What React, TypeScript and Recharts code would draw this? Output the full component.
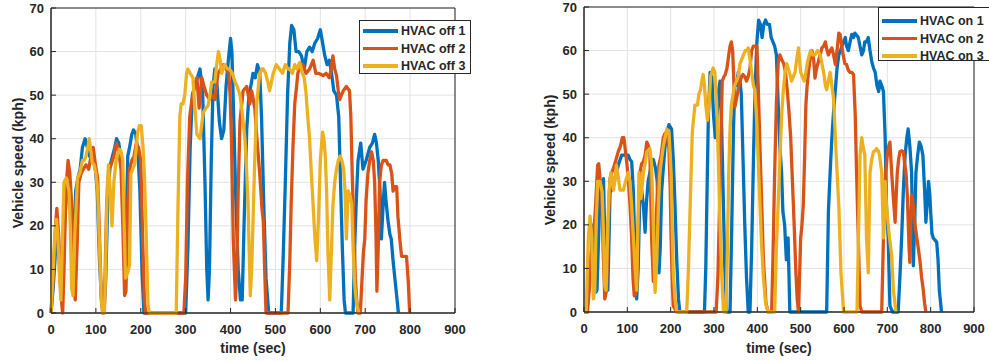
import React from 'react';
import { LineChart, Line, XAxis, YAxis, CartesianGrid, ReferenceArea } from 'recharts';

// [time (sec), speed (kph)]
const hvacOff1: [number, number][] = [
  [0, 0], [5, 6], [10, 14], [14, 19], [18, 14], [22, 4], [26, 8], [31, 22], [36, 29], [42, 30], [47, 22], [51, 17],
  [55, 28], [60, 31], [65, 33], [70, 38], [76, 40], [81, 38], [86, 36], [92, 35], [98, 34], [103, 28], [108, 12],
  [113, 2], [118, 0], [122, 8], [127, 28], [132, 34], [137, 36], [142, 38], [146, 40], [151, 39], [156, 35], [160, 28],
  [164, 15], [167, 17], [171, 36], [175, 38], [180, 41], [184, 42], [189, 41], [194, 36], [198, 28], [203, 9], [207, 0],
  [300, 0], [305, 15], [310, 38], [315, 50], [320, 52], [326, 54], [332, 56], [338, 50], [343, 30], [347, 10], [350, 3],
  [353, 10], [357, 35], [361, 52], [365, 56], [370, 52], [375, 44], [380, 40], [385, 42], [390, 52], [395, 58], [400, 63],
  [403, 60], [407, 45], [412, 25], [417, 10], [422, 3], [426, 3], [430, 20], [436, 42], [441, 50], [445, 52], [450, 55],
  [455, 54], [460, 57], [465, 55], [469, 45], [474, 25], [479, 8], [485, 0], [513, 0], [517, 12], [522, 30], [527, 50],
  [532, 62], [536, 66], [541, 65], [546, 60], [552, 60], [558, 59], [564, 56], [570, 60], [576, 61], [582, 60], [588, 62],
  [594, 63], [600, 65], [605, 62], [610, 59], [615, 57], [620, 58], [625, 55], [630, 51], [636, 50], [641, 45], [645, 30],
  [649, 15], [653, 3], [656, 0], [673, 0], [677, 17], [681, 28], [684, 35], [690, 39], [695, 33], [702, 35], [710, 38],
  [716, 39], [721, 41], [725, 39], [729, 35], [733, 28], [736, 17], [740, 25], [743, 30], [747, 25], [751, 21], [755, 18],
  [758, 17], [762, 12], [766, 8], [770, 4], [774, 0],
];

const hvacOff2: [number, number][] = [
  [0, 0], [5, 8], [10, 20], [13, 24], [17, 18], [21, 8], [24, 2], [26, 0], [29, 10], [33, 28], [38, 35], [42, 32],
  [46, 25], [50, 8], [54, 3], [58, 15], [62, 30], [67, 32], [72, 33], [78, 34], [84, 33], [89, 36], [94, 38], [99, 34],
  [104, 31], [108, 18], [112, 4], [115, 0], [119, 2], [124, 25], [129, 33], [134, 34], [140, 36], [146, 39], [151, 37],
  [156, 33], [160, 20], [164, 4], [167, 5], [171, 25], [175, 33], [180, 35], [185, 36], [190, 39], [195, 38], [200, 35],
  [204, 18], [208, 3], [211, 0], [296, 0], [300, 8], [304, 30], [309, 45], [314, 49], [320, 52], [325, 54], [330, 47],
  [336, 54], [341, 52], [347, 50], [353, 49], [359, 50], [365, 49], [372, 55], [378, 56], [384, 57], [390, 56], [396, 55],
  [399, 50], [402, 40], [406, 17], [411, 3], [414, 10], [417, 28], [421, 44], [428, 51], [436, 52], [443, 48], [447, 51],
  [454, 47], [458, 41], [465, 32], [470, 24], [473, 21], [476, 10], [479, 0], [528, 0], [532, 12], [535, 25], [539, 38],
  [543, 48], [550, 55], [556, 57], [561, 57], [568, 55], [576, 56], [584, 58], [590, 55], [596, 55], [606, 54.5], [613, 55],
  [620, 54], [624, 56], [628, 59], [632, 56], [636, 54.5], [640, 51], [643, 49], [647, 50], [651, 51], [658, 52], [665, 51],
  [668, 45], [671, 32], [675, 18], [678, 8], [681, 3], [684, 0], [689, 0], [693, 8], [696, 14], [699, 17], [702, 26],
  [706, 32], [710, 35], [714, 37], [718, 35], [721, 30], [724, 18], [726, 5], [729, 15], [732, 30], [736, 34], [740, 35],
  [747, 35], [751, 34], [755, 34], [759, 32], [762, 28], [766, 29], [770, 29], [773, 22], [777, 17], [781, 13], [786, 13],
  [792, 13], [796, 7], [799, 0],
];

const hvacOff3: [number, number][] = [
  [0, 0], [4, 8], [8, 17], [12, 21.5], [15, 18], [18, 10], [22, 3], [25, 15], [29, 30], [34, 31], [40, 28], [43, 20],
  [46, 5.5], [49, 4], [53, 18], [59, 31], [64, 32], [70, 35], [74, 35], [78, 36], [82, 38], [85, 40], [89, 37], [92, 34.5],
  [96, 34], [100, 32], [104, 28], [108, 15], [112, 3], [115, 0], [119, 0], [122, 12], [125, 28], [128, 34], [132, 28],
  [136, 20], [140, 30], [145, 35], [152, 37.6], [156, 37], [160, 35], [163, 20], [166, 8], [170, 9], [175, 11], [178, 32],
  [182, 33], [186, 34], [190, 38], [193, 41.5], [197, 43], [201, 43], [205, 38], [208, 32], [212, 18], [216, 2], [219, 0],
  [279, 0], [283, 25], [287, 45], [290, 48], [294, 48], [298, 50], [302, 55], [305, 56], [310, 55], [316, 54], [320, 48],
  [325, 41], [332, 40], [339, 46], [345, 47], [350, 47.6], [354, 50], [358, 53], [365, 53], [369, 57], [373, 60], [377, 58],
  [380, 55], [387, 57], [393, 56], [398, 56], [404, 55], [410, 53], [415, 52], [421, 50], [426, 46], [432, 40], [436, 32],
  [439, 25], [442, 12], [444, 4], [447, 10], [449, 17], [453, 32], [458, 47.6], [462, 52], [465, 55], [469, 56], [473, 56],
  [478, 55], [483, 53], [487, 51], [491, 53], [495, 55], [502, 57], [509, 56], [516, 55], [522, 57], [528, 56], [532, 56],
  [538, 55], [543, 57], [548, 56], [554, 57.5], [560, 55], [564, 54], [568, 50.6], [572, 45], [576, 40], [580, 32],
  [584, 24.6], [588, 17], [592, 12], [596, 22], [600, 35], [605, 41.5], [608, 40], [611, 36], [614, 28], [617, 14],
  [621, 3], [624, 12], [628, 24.6], [632, 30], [636, 33], [640, 35], [644, 36], [648, 35], [652, 33], [655, 28], [658, 17],
  [662, 28], [666, 27], [670, 25], [673, 15], [677, 6], [681, 2], [686, 0],
];

const hvacOn1: [number, number][] = [
  [0, 0], [6, 0], [10, 4], [14, 9], [18, 15], [21.5, 20], [24, 12], [27, 4.5], [30, 5], [33, 15], [37, 27.5], [41, 30],
  [45, 30.6], [48, 17], [52, 8], [55, 5], [58, 18], [60, 27.5], [64, 28], [68, 29], [72, 31], [75, 32], [80, 34], [87, 36],
  [95, 36], [102, 36], [106, 35], [110, 34.5], [114, 27.5], [118, 12], [121.5, 3], [125, 10], [129, 27.5], [133, 28],
  [137, 24.5], [141, 18.3], [144, 25], [148, 30], [152, 32], [156, 34], [160, 35], [165, 33], [169, 30], [173, 9], [176, 15],
  [179, 27.5], [183, 33], [187, 38], [191, 41], [196, 43], [202, 42], [206, 35], [210, 24.5], [214, 12], [218, 3], [221, 0],
  [278, 0], [281, 10], [284, 28], [287, 45], [291, 55], [295, 54], [299, 45], [303, 40], [307, 45], [311, 51], [314, 53],
  [317, 45], [321, 28], [325, 10], [329, 0], [337, 0], [341, 20], [345, 42], [348, 52], [352, 52], [356, 55], [360, 53],
  [363, 50], [367, 35], [371, 20], [375, 8], [379, 0], [383, 0], [387, 15], [391, 35], [395, 52], [399, 62], [403, 67],
  [407, 66], [411, 63], [415, 66], [419, 67], [423, 66], [428, 66], [432, 63], [436, 62], [440, 61], [444, 59], [448, 48],
  [452, 38], [456, 32], [459, 23], [463, 20], [467, 12], [471, 17], [475, 0], [560, 0], [564, 23], [568, 32], [572, 40],
  [576, 46], [580, 51], [584, 56], [588, 59], [592, 60], [595, 61], [599, 62], [603, 63], [606, 61], [610, 60], [614, 62],
  [618, 63.7], [622, 63], [625, 64], [629, 63.5], [633, 63], [637, 61], [641, 59], [645, 60], [648, 62], [652, 62],
  [656, 63], [660, 60], [664, 57.5], [668, 56], [672, 55], [676, 52], [680, 50.6], [683, 53], [687, 52], [691, 50.6],
  [695, 40], [698, 24.5], [702, 17], [706, 1.4], [712, 0], [725, 0], [729, 8], [733, 17], [737, 28], [741, 36], [745, 40],
  [748, 42], [752, 38], [756, 32], [758, 20], [760, 10.6], [763, 20], [766, 32], [770, 36], [774, 39], [778, 38], [782, 36],
  [786, 28], [789, 20.6], [792, 25], [795, 30], [798, 27], [800, 23], [803, 18], [806, 17], [810, 16.5], [814, 16],
  [817, 12], [820, 5], [823, 2], [825, 0],
];

const hvacOn2: [number, number][] = [
  [0, 0], [8, 0], [12, 5], [16, 12], [20, 18], [24, 20], [27, 25], [31.5, 33.7], [34, 34], [37, 30.6], [41, 27], [44, 15],
  [48, 3], [52, 5], [56, 20], [60, 30.6], [64, 32], [68, 33], [74, 35], [79, 36.8], [84, 38], [88.5, 40], [92, 40],
  [95, 37.5], [99, 34], [102, 30.6], [106, 25], [110, 17], [113, 8], [116, 3.7], [119, 4], [122, 6], [125, 20], [129, 32],
  [133, 34], [137, 34.5], [141, 36], [145, 39], [149, 38], [152, 36.8], [156, 17], [160, 7], [164, 15], [168, 24.5],
  [173, 33.7], [178, 36], [183, 40], [187, 41], [191, 41.4], [196, 37.5], [199, 28], [201, 17], [204, 6], [206, 1.4],
  [214, 0], [305, 0], [309, 8], [312, 20.6], [316, 40], [319, 53], [323, 54], [326, 54.5], [330, 56], [334, 59], [337, 61],
  [340, 62], [343, 60], [345, 55], [348, 47], [352, 49], [356, 51], [360, 53], [364, 54], [367, 54.5], [371, 54], [375, 53],
  [379, 54], [383, 56], [387, 60], [391, 61], [395, 61], [399, 61], [402, 52], [406, 38], [410, 25], [414, 12], [420, 2],
  [425, 0], [433, 0], [436, 12], [440, 32], [444, 48], [448, 57], [452, 59], [456, 58], [461, 57], [465, 55], [469, 51],
  [473, 46], [477, 40], [481, 30], [485, 20], [489, 9], [492, 3], [495, 0], [500, 17], [503, 20], [506, 24.5], [509, 35],
  [512, 47.5], [515, 52], [518, 55], [522, 58], [526, 60], [530, 58], [533, 53.7], [537, 56], [541, 57.5], [545, 59],
  [549, 60.6], [553, 61], [557, 62], [561, 60], [564, 59], [568, 60], [572, 60.6], [576, 59], [580, 56.8], [584, 60],
  [588, 64], [591, 63.7], [595, 61], [598, 59], [602, 57], [606, 56.8], [610, 55.5], [614, 55], [618, 55], [622, 54.5],
  [626, 45], [629, 32], [633, 17], [637, 1.4], [641, 0], [687, 0], [691, 17], [695, 30.6], [700, 36], [703, 38], [706, 39],
  [710, 32], [714, 26], [718, 20.6], [721, 28], [723, 32], [726, 35], [729, 36.8], [733, 37], [737, 36.8], [740, 34],
  [743, 32], [746, 27], [748, 21.4], [750, 15], [752, 11.4], [754, 20], [756, 26.8], [758, 26], [760, 24.5], [764, 20],
  [768, 17], [771, 15], [775, 12], [779, 8], [783, 5], [786, 2], [789, 0],
];

const hvacOn3: [number, number][] = [
  [0, 0], [5, 0], [10, 17], [14, 22], [18, 17], [21.5, 3], [25, 5], [28, 20], [31.5, 30], [37, 30], [42, 27.5], [45, 18],
  [48, 6], [51, 5], [55, 20], [58, 28], [62, 32], [68, 28], [71, 30], [75, 33.7], [79, 31], [83, 28], [87, 28], [91, 28],
  [96, 30], [102, 32], [106, 30], [110, 24.5], [114, 17], [118, 10], [121.5, 5], [124, 18], [127, 32], [131.5, 26],
  [137, 32], [141, 34], [145, 36.8], [152, 37.5], [156, 34], [160, 20], [164, 4.5], [168, 12], [172, 25], [175, 32],
  [179, 35], [183, 38], [187, 40], [191, 42], [196, 41.4], [201, 32], [206, 9], [210, 3], [214, 0], [237, 0], [241, 10],
  [245, 24.5], [250, 41.4], [256, 47.5], [262, 47.5], [265, 50], [269, 51], [272, 53], [275, 54.5], [278, 52], [281, 47.5],
  [285, 44], [289, 48], [292, 54], [295, 55], [298, 56], [302, 55], [306, 48], [310, 35], [314, 20], [318, 8], [322, 0],
  [328, 0], [331, 15], [334, 32], [337, 42], [340, 47.5], [344, 50], [348, 52], [352, 53], [356, 54], [360, 57], [364, 58],
  [368, 59], [372, 60], [376, 60], [379, 60.6], [383, 58], [387, 55], [391, 52], [394, 51], [398, 45], [402, 35], [406, 25],
  [410, 15], [414, 8], [419, 2], [425, 0], [440, 0], [444, 15], [448, 24.5], [452, 35], [456, 45], [460, 51], [464, 55],
  [468, 57], [474, 55], [479, 53], [483, 54], [487, 55], [491, 58], [495, 60.6], [500, 55], [504, 54], [508, 53], [512, 55],
  [516, 57.5], [520, 59], [523, 60], [528, 59], [533, 59], [539, 60], [545, 59], [549, 57], [553, 55], [557, 52], [560, 51],
  [564, 53], [568, 55], [572, 52], [576, 49], [580, 40], [584, 32], [588, 24.5], [593, 9], [599, 0], [630, 0], [634, 20],
  [637, 36], [641, 40], [644, 38], [648, 36], [652, 17], [656, 9], [660, 32], [664, 35], [668, 36.8], [672, 37], [675, 37.5],
  [679, 37], [682, 36], [687, 32], [691, 17], [695, 30], [698, 24.5], [702, 20], [705, 17], [710, 13], [714, 5], [720, 0],
];

const timeTicks = [0, 100, 200, 300, 400, 500, 600, 700, 800, 900];
const speedTicks = [0, 10, 20, 30, 40, 50, 60, 70];

const offNames = ['HVAC off 1', 'HVAC off 2', 'HVAC off 3'];
const onNames = ['HVAC on 1', 'HVAC on 2', 'HVAC on 3'];
const COLORS = ['#0072BD', '#D95319', '#EDB120'];

const FONT = '"Liberation Sans", Arial, sans-serif';
const INK = '#262626';

const toPoints = (s: [number, number][]) => s.map(([t, v]) => ({ t, v }));

// axis titles, drawn in page coordinates over the charts
const Titles = ({ items }: { items: { px: number; py: number; text: string; vertical?: boolean }[] }) => (
  <svg width={989} height={362} style={{ position: 'absolute', left: 0, top: 0, pointerEvents: 'none' }}>
    {items.map((it) => (
      <text
        key={`${it.text}-${it.px}`}
        x={it.px}
        y={it.py}
        textAnchor="middle"
        dominantBaseline={it.vertical ? 'central' : 'auto'}
        transform={it.vertical ? `rotate(-90 ${it.px} ${it.py})` : undefined}
        fill={INK}
        fontSize={14}
        fontWeight={700}
        fontFamily={FONT}
      >
        {it.text}
      </text>
    ))}
  </svg>
);

const LegendBox = ({ names, left, top, rowTop }: { names: string[]; left: number; top: number; rowTop: number }) => (
  <div
    style={{
      position: 'absolute', left, top, width: 112, height: 54, background: '#fff',
      border: '1px solid #262626', boxSizing: 'border-box', fontFamily: FONT,
    }}
  >
    {names.map((n, i) => (
      <div key={n} style={{ position: 'absolute', left: 3, top: rowTop + i * 17.5 - 9, height: 18, display: 'flex', alignItems: 'center' }}>
        <div style={{ width: 35, height: 3.5, background: COLORS[i] }} />
        <span style={{ marginLeft: 3, fontSize: 12.5, fontWeight: 700, color: INK, whiteSpace: 'nowrap' }}>{n}</span>
      </div>
    ))}
  </div>
);

type PanelProps = {
  series: [number, number][][];
  names: string[];
  width: number;
  yAxisWidth: number;
  top: number;
  xAxisHeight: number;
};

const Panel = ({ series, names, width, yAxisWidth, top, xAxisHeight }: PanelProps) => {
  const tickStyle = { fill: INK, fontSize: 13, fontWeight: 700, fontFamily: FONT };
  return (
    <LineChart width={width} height={362} margin={{ top, right: 15, bottom: 0, left: 0 }}>
      <CartesianGrid stroke="#e3e3e3" strokeWidth={1} horizontalValues={speedTicks} verticalValues={timeTicks} />
      <ReferenceArea x1={0} x2={900} y1={0} y2={70} fill="none" stroke={INK} strokeWidth={1} fillOpacity={0} />
      <XAxis
        dataKey="t"
        type="number"
        domain={[0, 900]}
        ticks={timeTicks}
        interval={0}
        height={xAxisHeight}
        stroke={INK}
        tickSize={-5}
        tickMargin={17}
        tick={tickStyle}
      />
      <YAxis
        dataKey="v"
        type="number"
        domain={[0, 70]}
        ticks={speedTicks}
        interval={0}
        width={yAxisWidth}
        stroke={INK}
        tickSize={-5}
        tickMargin={12}
        tick={tickStyle}
      />
      {series.map((s, i) => (
        <Line
          key={names[i]}
          data={toPoints(s)}
          dataKey="v"
          name={names[i]}
          type="linear"
          stroke={COLORS[i]}
          strokeWidth={3.3}
          strokeLinejoin="round"
          dot={false}
          activeDot={false}
          isAnimationActive={false}
        />
      ))}
    </LineChart>
  );
};

export default function App() {
  return (
    <div style={{ position: 'absolute', left: 0, top: 0, width: 989, height: 362, overflow: 'hidden', background: '#fff' }}>
      <div style={{ position: 'absolute', left: 0, top: 0 }}>
        <Panel
          series={[hvacOff1, hvacOff2, hvacOff3]}
          names={offNames}
          width={470}
          yAxisWidth={51}
          top={8}
          xAxisHeight={49}
        />
      </div>
      <div style={{ position: 'absolute', left: 520, top: 0 }}>
        <Panel
          series={[hvacOn1, hvacOn2, hvacOn3]}
          names={onNames}
          width={469}
          yAxisWidth={64}
          top={7}
          xAxisHeight={50}
        />
      </div>
      <Titles
        items={[
          { px: 18, py: 163, text: 'Vehicle speed (kph)', vertical: true },
          { px: 253, py: 353, text: 'time (sec)' },
          { px: 550, py: 160, text: 'Vehicle speed (kph)', vertical: true },
          { px: 779, py: 353, text: 'time (sec)' },
        ]}
      />
      <LegendBox names={offNames} left={359} top={20} rowTop={10} />
      <LegendBox names={onNames} left={878} top={7} rowTop={13} />
    </div>
  );
}
